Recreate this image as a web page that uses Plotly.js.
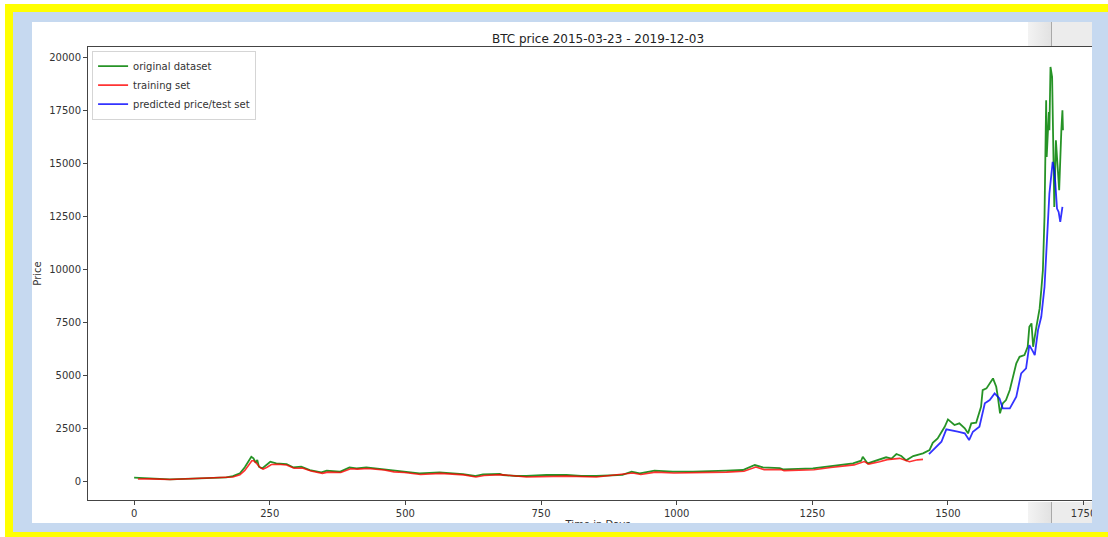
<!DOCTYPE html>
<html><head><meta charset="utf-8">
<script src="https://cdn.plot.ly/plotly-3.0.1.min.js"></script>
<style>
html,body{margin:0;padding:0;background:#fff;width:1108px;height:537px;overflow:hidden;position:relative;}
#yellow{position:absolute;left:5px;top:4px;width:1103px;height:533px;background:#ffff00;}
#blue{position:absolute;left:13px;top:12px;width:1095px;height:520px;background:#c6d9f0;}
#frame{position:absolute;left:32px;top:22px;width:1060px;height:501px;background:#fff;overflow:hidden;}
.gl{position:absolute;width:23px;background:linear-gradient(to right,#f3f3f3,#e2e2e2);}
.gm{position:absolute;width:1px;background:#a9a9a9;}
.gr{position:absolute;width:40px;background:#ececec;}
#chart{position:absolute;left:0;top:0;width:1100px;height:520px;}
</style></head>
<body>
<div id="yellow"></div>
<div id="blue"></div>
<div id="frame">
  <div class="gl" style="left:996px;top:0;height:24px"></div>
  <div class="gm" style="left:1019px;top:0;height:24px"></div>
  <div class="gr" style="left:1020px;top:0;height:24px"></div>
  <div class="gl" style="left:996px;top:480px;height:21px"></div>
  <div class="gm" style="left:1019px;top:480px;height:21px"></div>
  <div class="gr" style="left:1020px;top:480px;height:21px"></div>
  <div id="chart"></div>
</div>
<script>
// Original dataset (day index, price)
const origDays = [0,29,66,121,170,182,195,204,212,216,220,224,227,230,236,243,251,262,281,293,308,324,345,355,379,397,410,428,459,477,496,526,563,606,628,643,674,680,704,723,760,797,824,852,900,917,932,959,993,1030,1092,1122,1144,1159,1190,1196,1251,1282,1325,1340,1343,1352,1374,1386,1396,1405,1414,1423,1436,1454,1466,1472,1481,1488,1494,1500,1506,1512,1521,1531,1537,1543,1552,1561,1564,1571,1583,1589,1592,1596,1601,1607,1614,1626,1632,1641,1647,1650,1654,1657,1663,1669,1672,1675,1678,1680,1681,1682,1684,1686,1687,1689,1692,1696,1699,1701,1704,1705,1709,1711,1712];
const origPrice = [156,127,80,127,175,236,363,647,958,1147,1071,864,991,675,599,755,911,835,802,647,675,519,411,486,439,647,599,647,566,486,439,363,411,330,236,316,330,283,236,236,283,283,236,236,290,439,363,486,439,440,486,519,755,640,610,552,599,708,835,958,1147,830,1000,1120,1060,1274,1180,975,1180,1307,1463,1800,2015,2327,2563,2912,2799,2643,2723,2487,2251,2723,2752,3507,4295,4375,4847,4451,3979,3195,3667,3823,4295,5555,5867,5947,6339,7283,7443,6339,7283,8151,9015,9959,12500,15151,17983,15307,16411,17431,16567,19555,19083,12947,16095,15151,14363,13735,16567,17511,16567];

// Training set
const trainDays = [7,29,66,121,170,182,195,204,212,217,220,225,232,238,245,253,265,281,295,310,326,347,357,381,399,412,430,461,479,498,528,565,608,630,645,676,723,797,852,919,934,961,995,1030,1092,1124,1146,1161,1192,1198,1253,1284,1327,1346,1354,1374,1388,1411,1429,1444,1454];
const trainPrice = [94,100,70,110,150,190,290,500,780,960,960,850,640,560,650,780,790,760,600,610,470,360,420,400,580,560,590,520,430,400,310,360,290,190,260,300,190,230,190,380,310,420,380,390,420,460,660,540,540,490,530,640,760,920,800,911,1010,1071,911,1000,1024];

// Predicted price / test set
const testDays = [1465,1475,1488,1497,1506,1518,1531,1539,1546,1558,1568,1577,1586,1595,1601,1614,1626,1635,1644,1650,1657,1660,1666,1672,1678,1681,1683,1687,1693,1696,1698,1701,1704,1707,1711];
const testPrice = [1274,1543,1855,2440,2407,2327,2251,1935,2327,2563,3667,3823,4139,3903,3431,3431,3979,5083,5319,6419,6103,5947,7127,7755,9171,10587,11847,13579,15071,14679,14051,12871,12711,12239,12947];

const xTicks = [0,250,500,750,1000,1250,1500,1750];
const yTicks = [0,2500,5000,7500,10000,12500,15000,17500,20000];

const F = 'DejaVu Sans, Liberation Sans, sans-serif';
const traces = [
  {x: origDays, y: origPrice, type:'scatter', mode:'lines', name:'original dataset',
   line:{color:'rgba(0,128,0,0.85)', width:1.8}},
  {x: trainDays, y: trainPrice, type:'scatter', mode:'lines', name:'training set',
   line:{color:'rgba(255,0,0,0.8)', width:1.6}},
  {x: testDays, y: testPrice, type:'scatter', mode:'lines', name:'predicted price/test set',
   line:{color:'rgba(0,0,255,0.8)', width:1.8}}
];
const axisCommon = {showgrid:false, zeroline:false, showline:true, mirror:true,
  linecolor:'#444', linewidth:1, ticks:'outside', ticklen:4, tickwidth:1, tickcolor:'#444',
  tickfont:{family:F, size:10, color:'#333'}};
const layout = {
  width:1100, height:520,
  margin:{l:56, r:24, t:25, b:42, pad:0},
  paper_bgcolor:'rgba(0,0,0,0)', plot_bgcolor:'#fff',
  font:{family:F, size:10, color:'#333'},
  title:{text:'BTC price 2015-03-23 - 2019-12-03', font:{family:F, size:12, color:'#222'},
    x:0.5, xref:'paper', xanchor:'center', y:0.967, yref:'container', yanchor:'middle'},
  xaxis:Object.assign({}, axisCommon, {range:[-85,1795], tickvals:xTicks, ticktext:xTicks.map(String),
    title:{text:'Time in Days', font:{family:F, size:10, color:'#333'}, standoff:2}}),
  yaxis:Object.assign({}, axisCommon, {range:[-897,20500], tickvals:yTicks, ticktext:yTicks.map(String),
    title:{text:'Price', font:{family:F, size:10, color:'#333'}, standoff:5}}),
  showlegend:true,
  legend:{x:0.004, y:0.992, xanchor:'left', yanchor:'top', bgcolor:'rgba(255,255,255,0.85)',
    bordercolor:'#d5d5d5', borderwidth:1, font:{family:F, size:10, color:'#333'}, tracegroupgap:0,
    itemwidth:30}
};
Plotly.newPlot('chart', traces, layout, {displayModeBar:false, staticPlot:true});
</script>
</body></html>
